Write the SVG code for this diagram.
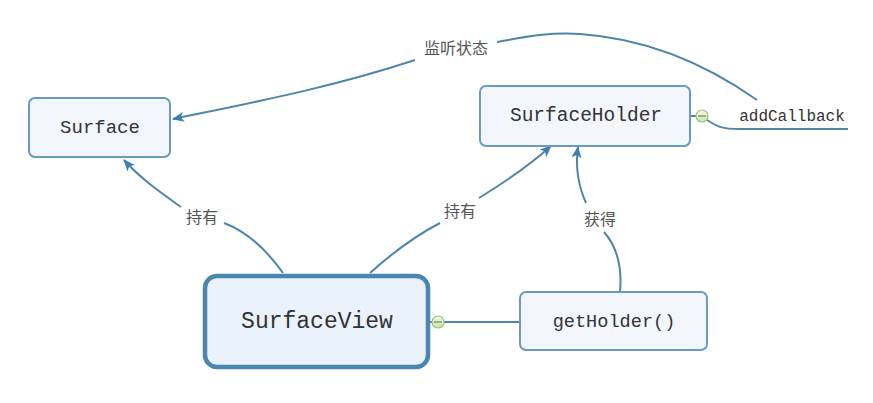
<svg xmlns="http://www.w3.org/2000/svg" width="873" height="403" viewBox="0 0 873 403">
<defs>
<marker id="arr" viewBox="0 0 12 10" refX="11" refY="5" markerWidth="12" markerHeight="10" markerUnits="userSpaceOnUse" orient="auto">
<path d="M0,0 L12,5 L0,10 L3,5 Z" fill="#3f7fae"/>
</marker>
<linearGradient id="mg" x1="0" y1="0" x2="0" y2="1">
<stop offset="0" stop-color="#f4fbe6"/>
<stop offset="1" stop-color="#c9e3a8"/>
</linearGradient>
</defs>
<style>
.box{fill:#f3f7fd;stroke:#6b9bbc;stroke-width:2}
.main{fill:#eaf2fc;stroke:#4a86ad;stroke-width:4.5}
.t{font-family:"Liberation Mono",monospace;fill:#333;text-anchor:middle;dominant-baseline:central}
.lab{font-family:"Noto Sans CJK SC","Noto Sans CJK JP",sans-serif;fill:#555;font-size:16px;text-anchor:middle;dominant-baseline:central}
.ln{fill:none;stroke:#4f86a8;stroke-width:2}
.minus{fill:url(#mg);stroke:#9cc47a;stroke-width:1.2}
</style>
<rect width="873" height="403" fill="#ffffff"/>
<g id="connectors">
<path class="ln" d="M757,100 C700,60 640,38 580,34 C545,32 520,38 497,42"/>
<path class="ln" d="M415,60 C330,88 250,103 173,119" marker-end="url(#arr)"/>
<path class="ln" d="M181,207 C160,192 140,178 124,160" marker-end="url(#arr)"/>
<path class="ln" d="M283,273 C268,252 248,232 224,223"/>
<path class="ln" d="M370,273 C390,255 415,236 440,223"/>
<path class="ln" d="M479,198 C505,182 530,165 551,146" marker-end="url(#arr)"/>
<path class="ln" d="M620,292 C622,270 618,248 604,232"/>
<path class="ln" d="M586,203 C578,185 575,168 578,147" marker-end="url(#arr)"/>
<path class="ln" d="M428,322 L432,322"/>
<path class="ln" d="M444,322 L520,322"/>
<path class="ln" d="M707,120 C718,127 722,129 740,129 L848,129"/>
<path class="ln" d="M690,116 L696,116"/>
</g>
<g id="Surface">
<rect class="box" x="29" y="98" width="141" height="59" rx="6"/>
<text class="t" x="100" y="128" font-size="19">Surface</text>
</g>
<g id="SurfaceHolder">
<rect class="box" x="480" y="86" width="210" height="60" rx="6"/>
<text class="t" x="586" y="116" font-size="19.5">SurfaceHolder</text>
</g>
<g id="SurfaceView">
<rect class="main" x="205" y="276" width="223" height="91" rx="12"/>
<text class="t" x="317" y="322" font-size="23">SurfaceView</text>
</g>
<g id="getHolder">
<rect class="box" x="520" y="292" width="187" height="58" rx="6"/>
<text class="t" x="614" y="322" font-size="18.6">getHolder()</text>
</g>
<g id="addCallback">
<text class="t" x="792" y="117" font-size="16">addCallback</text>
</g>
<g id="minus1">
<circle class="minus" cx="702" cy="116" r="6"/>
<line x1="698" y1="116" x2="706" y2="116" stroke="#666" stroke-width="1"/>
</g>
<g id="minus2">
<circle class="minus" cx="438" cy="322" r="6"/>
<line x1="434" y1="322" x2="442" y2="322" stroke="#666" stroke-width="1"/>
</g>
<g id="labels">
<text class="lab" x="456" y="47">监听状态</text>
<text class="lab" x="202" y="216">持有</text>
<text class="lab" x="460" y="210">持有</text>
<text class="lab" x="600" y="218">获得</text>
</g>
</svg>
